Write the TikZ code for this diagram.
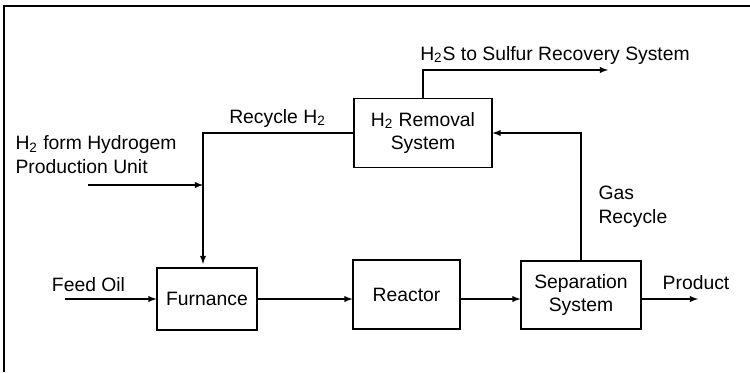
\documentclass[tikz,border=0pt]{standalone}
\usepackage{fontspec}
\setmainfont{Liberation Sans}
\begin{document}
\begin{tikzpicture}[x=1cm,y=1cm,>=latex,line width=0.6pt,
  font=\fontsize{11}{13.6}\selectfont,
  unit/.style={draw, align=center, inner sep=2pt},
  lbl/.style={align=left, inner sep=0pt}]
\useasboundingbox (0,0) rectangle (15,-7.44);
\draw[line width=1pt] (15,-0.12) -- (0.08,-0.12) -- (0.08,-7.44);
% units
\node[unit, minimum width=2cm, minimum height=1.24cm] (furn) at (4.14,-5.98) {Furnance};
\node[unit, minimum width=2.14cm, minimum height=1.38cm] (reac) at (8.13,-5.89) {Reactor};
\node[unit, minimum width=2.4cm, minimum height=1.36cm] (sep) at (11.62,-5.9) {Separation\\System};
\node[unit, minimum width=2.76cm, minimum height=1.38cm] (rem) at (8.46,-2.66) {H\textsubscript{2} Removal\\System};
% free ends
\coordinate (feed) at (1.3,-5.98);
\coordinate (h2in) at (1.76,-3.7);
\coordinate (jn) at (4.06,-2.66);
\coordinate (prod) at (13.96,-5.98);
\coordinate (h2s) at (12.16,-1.4);
% labels
\node[lbl] (feedlbl) at (1.77,-5.7) {Feed Oil};
\node[lbl, anchor=west] (h2lbl) at (0.3,-3.1) {H\textsubscript{2} form Hydrogem\\Production Unit};
\node[lbl] (reclbl) at (5.55,-2.36) {Recycle H\textsubscript{2}};
\node[lbl, anchor=west] (gaslbl) at (11.96,-4.14) {Gas\\Recycle};
\node[lbl] (prodlbl) at (13.92,-5.66) {Product};
\node[lbl] (h2slbl) at (11.1,-1.1) {H\textsubscript{2}S to Sulfur Recovery System};
% streams
\draw[->] (feed) -- (furn.west);
\draw[->] (furn.east) -- (furn.east -| reac.west);
\draw[->] (reac.east |- furn.east) -- (sep.west |- furn.east);
\draw[->] (sep.east |- furn.east) -- (prod);
\draw[->] (rem.west) -- (jn) -- ([yshift=2pt]jn |- furn.north);
\draw[->] (h2in) -- (h2in -| jn);
\draw[->] (sep.north) |- (rem.east);
\draw[->] (rem.north) |- (h2s);
\end{tikzpicture}
\end{document}
